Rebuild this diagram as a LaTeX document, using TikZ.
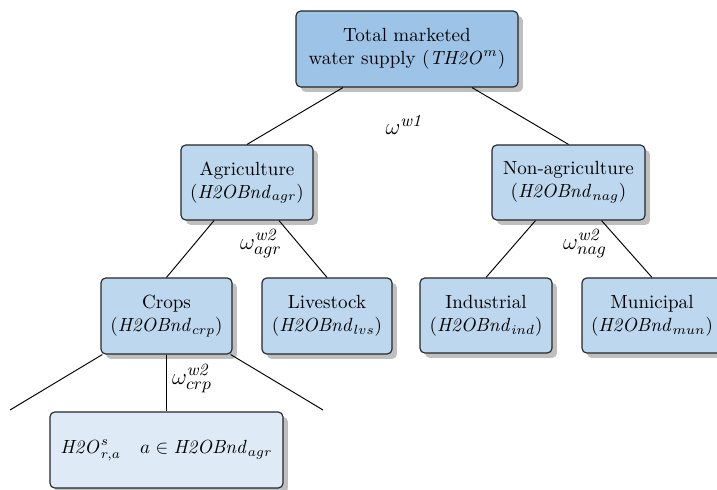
\documentclass[tikz,border=0pt]{standalone}
\usetikzlibrary{shadows,calc}
\definecolor{topblue}{HTML}{9DC3E6}
\definecolor{midblue}{HTML}{BDD7EE}
\definecolor{lowblue}{HTML}{DEEBF7}
\definecolor{shadowgray}{HTML}{BFBFBF}
\newcommand\pxu{0.525pt}
\tikzset{
  box/.style={draw=black!85, line width=0.6pt, rounded corners=2.5pt, align=center,
    inner sep=2pt, fill=midblue,
    drop shadow={shadow xshift=2.6pt, shadow yshift=-2.6pt, fill=shadowgray, opacity=1}},
  edge/.style={draw=black, line width=0.5pt},
  lbl/.style={inner sep=0pt, font=\fontsize{13}{15}\selectfont}
}
\begin{document}
\begin{tikzpicture}[x=\pxu,y=-\pxu]
\useasboundingbox (0,0) rectangle (717,489);
\node[box, fill=topblue, minimum width=222*\pxu, minimum height=76*\pxu] (top) at (407,49)
  {Total marketed\\water supply ($\mathit{TH2O}^{m}$)};
\node[box, minimum width=132*\pxu, minimum height=75*\pxu] (agr) at (247,182.5)
  {Agriculture\\($\mathit{H2OBnd}_{agr}$)};
\node[box, minimum width=153*\pxu, minimum height=75*\pxu] (nag) at (568.5,182.5)
  {Non-agriculture\\($\mathit{H2OBnd}_{nag}$)};
\node[box, minimum width=131*\pxu, minimum height=76*\pxu] (crp) at (166.5,316)
  {Crops\\($\mathit{H2OBnd}_{crp}$)};
\node[box, minimum width=130*\pxu, minimum height=76*\pxu] (lvs) at (327,316)
  {Livestock\\($\mathit{H2OBnd}_{lvs}$)};
\node[box, minimum width=132*\pxu, minimum height=75*\pxu] (ind) at (486,315.5)
  {Industrial\\($\mathit{H2OBnd}_{ind}$)};
\node[box, minimum width=140*\pxu, minimum height=75*\pxu] (mun) at (652,315.5)
  {Municipal\\($\mathit{H2OBnd}_{mun}$)};
\node[box, fill=lowblue, minimum width=233*\pxu, minimum height=76*\pxu] (bot) at (166.5,450)
  {$\mathit{H2O}^{s}_{r,a}\quad a\in \mathit{H2OBnd}_{agr}$};
\coordinate (cl) at (10,410);
\coordinate (cr) at (323,410);
\draw[edge] ([xshift=-64*\pxu]top.south) -- (agr.north);
\draw[edge] ([xshift=65*\pxu]top.south) -- (nag.north);
\draw[edge] ([xshift=-33*\pxu]agr.south) -- (crp.north);
\draw[edge] ([xshift=32*\pxu]agr.south) -- (lvs.north);
\draw[edge] ([xshift=-33*\pxu]nag.south) -- (ind.north);
\draw[edge] ([xshift=33*\pxu]nag.south) -- (mun.north);
\draw[edge] ([xshift=1pt]crp.south west) -- (cl);
\draw[edge] ([xshift=-1pt]crp.south east) -- (cr);
\draw[edge] (crp.south) -- (bot.north);
\node[lbl] (l1) at (405,125) {$\omega^{\mathit{w1}}$};
\node[lbl] (l2) at (261,244) {$\omega^{\mathit{w2}}_{agr}$};
\node[lbl] (l3) at (585,244) {$\omega^{\mathit{w2}}_{nag}$};
\node[lbl] (l4) at (192,379) {$\omega^{\mathit{w2}}_{crp}$};
\end{tikzpicture}
\end{document}
